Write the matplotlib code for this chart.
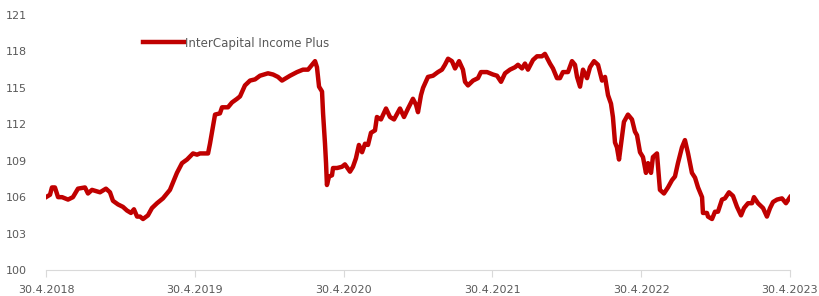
import numpy as np
import matplotlib.pyplot as plt

# time as decimal year (30.4. ~ year + 0.33), fund value
t = [2018.330, 2018.357, 2018.370, 2018.390, 2018.411, 2018.438, 2018.478, 2018.511, 2018.545, 2018.592,
     2018.612, 2018.639, 2018.693, 2018.733, 2018.760, 2018.780, 2018.814, 2018.847, 2018.874, 2018.901,
     2018.921, 2018.942, 2018.962, 2018.982, 2019.015, 2019.042, 2019.076, 2019.116, 2019.163, 2019.210,
     2019.244, 2019.278, 2019.318, 2019.345, 2019.365, 2019.419, 2019.432, 2019.452, 2019.466, 2019.499,
     2019.513, 2019.553, 2019.580, 2019.614, 2019.634, 2019.667, 2019.701, 2019.735, 2019.768, 2019.822,
     2019.856, 2019.889, 2019.916, 2019.970, 2020.017, 2020.057, 2020.091, 2020.118, 2020.138, 2020.151,
     2020.165, 2020.185, 2020.192, 2020.205, 2020.212, 2020.218, 2020.232, 2020.252, 2020.259, 2020.286,
     2020.319, 2020.339, 2020.373, 2020.393, 2020.413, 2020.433, 2020.454, 2020.474, 2020.494, 2020.514,
     2020.541, 2020.554, 2020.581, 2020.615, 2020.642, 2020.669, 2020.709, 2020.736, 2020.763, 2020.796,
     2020.817, 2020.830, 2020.850, 2020.864, 2020.897, 2020.931, 2020.964, 2020.991, 2021.011, 2021.032,
     2021.058, 2021.079, 2021.106, 2021.132, 2021.146, 2021.166, 2021.200, 2021.233, 2021.253, 2021.294,
     2021.334, 2021.361, 2021.388, 2021.415, 2021.448, 2021.482, 2021.502, 2021.529, 2021.549, 2021.569,
     2021.603, 2021.630, 2021.663, 2021.683, 2021.717, 2021.737, 2021.764, 2021.784, 2021.804, 2021.838,
     2021.865, 2021.885, 2021.899, 2021.919, 2021.939, 2021.966, 2021.986, 2022.013, 2022.040, 2022.067,
     2022.087, 2022.107, 2022.127, 2022.140, 2022.154, 2022.167, 2022.181, 2022.201, 2022.214, 2022.241,
     2022.268, 2022.288, 2022.302, 2022.322, 2022.342, 2022.362, 2022.376, 2022.396, 2022.409, 2022.436,
     2022.456, 2022.483, 2022.510, 2022.537, 2022.557, 2022.577, 2022.604, 2022.624, 2022.645, 2022.671,
     2022.692, 2022.712, 2022.739, 2022.745, 2022.772, 2022.779, 2022.806, 2022.826, 2022.846, 2022.873,
     2022.893, 2022.920, 2022.947, 2022.974, 2023.001, 2023.021, 2023.048, 2023.075, 2023.088, 2023.115,
     2023.149, 2023.175, 2023.196, 2023.216, 2023.243, 2023.276, 2023.303, 2023.330]
value = [106.0, 106.2, 106.8, 106.8, 106.0, 106.0, 105.8, 106.0, 106.7, 106.8,
         106.3, 106.6, 106.4, 106.7, 106.4, 105.7, 105.4, 105.2, 104.9, 104.7,
         105.0, 104.4, 104.4, 104.2, 104.5, 105.1, 105.5, 105.9, 106.6, 108.0,
         108.8, 109.1, 109.6, 109.5, 109.6, 109.6, 110.4, 111.8, 112.8, 112.9,
         113.4, 113.4, 113.8, 114.1, 114.3, 115.2, 115.6, 115.7, 116.0, 116.2,
         116.1, 115.9, 115.6, 116.0, 116.3, 116.5, 116.5, 116.9, 117.2, 116.7,
         115.1, 114.7, 112.9, 110.4, 108.8, 107.0, 107.7, 107.8, 108.4, 108.4,
         108.5, 108.7, 108.1, 108.5, 109.2, 110.3, 109.7, 110.4, 110.3, 111.3,
         111.5, 112.6, 112.4, 113.3, 112.6, 112.4, 113.3, 112.6, 113.3, 114.1,
         113.6, 113.0, 114.4, 115.0, 115.9, 116.0, 116.3, 116.5, 116.9, 117.4,
         117.2, 116.6, 117.2, 116.5, 115.5, 115.2, 115.6, 115.8, 116.3, 116.3,
         116.1, 116.0, 115.5, 116.2, 116.5, 116.7, 116.9, 116.6, 117.0, 116.5,
         117.3, 117.6, 117.6, 117.8, 117.0, 116.6, 115.8, 115.8, 116.3, 116.3,
         117.2, 116.9, 115.9, 115.1, 116.5, 115.8, 116.7, 117.2, 116.9, 115.6,
         115.9, 114.4, 113.7, 112.6, 110.5, 110.1, 109.1, 111.0, 112.2, 112.8,
         112.4, 111.4, 111.1, 109.7, 109.3, 108.0, 108.8, 108.0, 109.3, 109.6,
         106.6, 106.3, 106.8, 107.4, 107.7, 108.8, 110.1, 110.7, 109.6, 108.0,
         107.6, 106.8, 106.0, 104.7, 104.7, 104.4, 104.2, 104.8, 104.8, 105.8,
         105.9, 106.4, 106.1, 105.2, 104.5, 105.1, 105.5, 105.5, 106.0, 105.5,
         105.1, 104.4, 105.1, 105.6, 105.8, 105.9, 105.5, 106.0]

x_ticks = [2018.33, 2019.33, 2020.33, 2021.33, 2022.33, 2023.33]
x_labels = ['30.4.2018', '30.4.2019', '30.4.2020', '30.4.2021', '30.4.2022', '30.4.2023']
y_ticks = [100, 103, 106, 109, 112, 115, 118, 121]

fig = plt.figure(figsize=(8.2, 2.96), dpi=100)
ax = fig.add_axes([0.0561, 0.0878, 0.9073, 0.8615])

ax.plot(t, value, color='#C00000', linewidth=3.2, solid_joinstyle='round',
        label='InterCapital Income Plus')

ax.set_xlim(2018.33, 2023.33)
ax.set_ylim(100, 121)
ax.set_xticks(x_ticks)
ax.set_xticklabels(x_labels)
ax.set_yticks(y_ticks)

for s in ['top', 'right', 'left']:
    ax.spines[s].set_visible(False)
ax.spines['bottom'].set_color('#d9d9d9')
ax.tick_params(axis='x', colors='#d9d9d9', labelcolor='#595959', labelsize=8, length=5, pad=6)
ax.tick_params(axis='y', length=0, labelcolor='#595959', labelsize=8, pad=14)

ax.legend(loc='center left', bbox_to_anchor=(0.130, 0.890), frameon=False,
          borderpad=0, borderaxespad=0, handlelength=3.5, handletextpad=0.1,
          labelcolor='#595959', fontsize=8.5)

fig.savefig('out.png', dpi=100)
